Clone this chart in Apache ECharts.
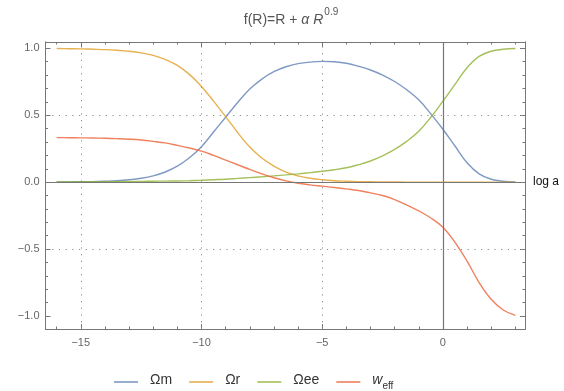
<!DOCTYPE html>
<html>
<head>
<meta charset="utf-8">
<script src="https://cdn.jsdelivr.net/npm/echarts@6/dist/echarts.min.js"></script>
<style>
  html, body { margin: 0; padding: 0; background: #fff; }
  #chart { width: 564px; height: 391px; }
</style>
</head>
<body>
<div id="chart"></div>
<script>
// Density parameters and effective equation of state versus log a
const logA = [-16, -15.5, -15, -14.5, -14, -13.5, -13, -12.5, -12, -11.5, -11, -10.5, -10,
  -9.5, -9, -8.5, -8, -7.5, -7, -6.5, -6, -5.5, -5, -4.5, -4, -3.5, -3, -2.5, -2, -1.5,
  -1, -0.5, 0, 0.5, 1, 1.5, 2, 2.5, 3];

const omegaM = [0.001, 0.002, 0.003, 0.004, 0.007, 0.011, 0.018, 0.029, 0.047, 0.076, 0.119, 0.182, 0.265,
  0.375, 0.485, 0.595, 0.695, 0.77, 0.825, 0.862, 0.885, 0.897, 0.902, 0.899, 0.888, 0.866, 0.838, 0.8, 0.752, 0.69,
  0.615, 0.51, 0.395, 0.27, 0.145, 0.062, 0.022, 0.007, 0.002];

const omegaR = [0.998, 0.997, 0.996, 0.993, 0.99, 0.985, 0.978, 0.966, 0.947, 0.917, 0.873, 0.805, 0.715,
  0.605, 0.49, 0.37, 0.262, 0.18, 0.12, 0.075, 0.047, 0.029, 0.018, 0.011, 0.007, 0.004, 0.0025, 0.0015, 0.001, 0.0005,
  0.0003, 0.0002, 0.0001, 0, 0, 0, 0, 0, 0];

const omegaEE = [0.001, 0.002, 0.002, 0.003, 0.003, 0.004, 0.005, 0.006, 0.007, 0.008, 0.009, 0.011, 0.014,
  0.018, 0.022, 0.028, 0.034, 0.04, 0.047, 0.054, 0.062, 0.071, 0.081, 0.093, 0.108, 0.13, 0.158, 0.196, 0.245, 0.305,
  0.38, 0.485, 0.605, 0.73, 0.855, 0.94, 0.978, 0.993, 0.998];

const wEff = [0.333, 0.332, 0.331, 0.33, 0.328, 0.325, 0.321, 0.315, 0.305, 0.293, 0.275, 0.255, 0.232,
  0.2, 0.165, 0.13, 0.095, 0.062, 0.033, 0.01, -0.008, -0.02, -0.03, -0.04, -0.05, -0.062, -0.08, -0.1, -0.13, -0.17,
  -0.215, -0.268, -0.337, -0.45, -0.59, -0.75, -0.875, -0.955, -0.995];

const xMajor = [-15, -10, -5, 0];
const xMinor = [-16, -14, -13, -12, -11, -9, -8, -7, -6, -4, -3, -2, -1, 1, 2, 3];
const yMajor = [-1, -0.5, 0, 0.5, 1];
const yMinor = [-0.9, -0.8, -0.7, -0.6, -0.4, -0.3, -0.2, -0.1, 0.1, 0.2, 0.3, 0.4, 0.6, 0.7, 0.8, 0.9];
const xGrid = [-15, -10, -5];
const yGrid = [-0.5, 0.5];

const X_MIN = -16.46, X_MAX = 3.4, Y_MIN = -1.097, Y_MAX = 1.047;
const FRAME = '#777';
const LABEL = '#666';
const FONT = 'Liberation Sans, Arial, sans-serif';

const pairs = vals => logA.map((x, i) => [x, vals[i]]);
const fmt = v => (v < 0 ? '\u2212' + Math.abs(v) : String(v));
const fmtY = v => (v < 0 ? '\u2212' + Math.abs(v).toFixed(1) : v.toFixed(1));

function xAxisDef(pos, ticks, len, labels) {
  return {
    type: 'value', position: pos, min: X_MIN, max: X_MAX,
    axisLine: { show: true, onZero: false, lineStyle: { color: FRAME, width: 1 } },
    axisTick: { show: true, inside: true, length: len, customValues: ticks, lineStyle: { color: FRAME } },
    axisLabel: labels ? { show: true, customValues: ticks, formatter: fmt, color: LABEL, fontSize: 11, fontFamily: FONT, margin: 8 } : { show: false },
    splitLine: { show: false }
  };
}
function yAxisDef(pos, ticks, len, labels) {
  return {
    type: 'value', position: pos, min: Y_MIN, max: Y_MAX,
    axisLine: { show: true, onZero: false, lineStyle: { color: FRAME, width: 1 } },
    axisTick: { show: true, inside: true, length: len, customValues: ticks, lineStyle: { color: FRAME } },
    axisLabel: labels ? { show: true, customValues: ticks, formatter: fmtY, color: LABEL, fontSize: 11, fontFamily: FONT, margin: 6 } : { show: false },
    splitLine: { show: false }
  };
}

const gridLineStyle = { color: '#8a8a8a', width: 1, type: [1.2, 5.5] };
const axisLineStyle = { color: '#777', width: 1.2, type: 'solid' };

const chart = echarts.init(document.getElementById('chart'), null, { renderer: 'canvas' });
chart.setOption({
  animation: false,
  backgroundColor: '#fff',
  title: {
    text: '{n|f(R)=R + }{i|\u03b1 R}{s|0.9}',
    left: 286, textAlign: 'center', top: 2,
    textStyle: {
      fontWeight: 'normal',
      rich: {
        n: { fontSize: 14, color: '#555', fontFamily: FONT, fontWeight: 'normal', verticalAlign: 'bottom', lineHeight: 20 },
        i: { fontSize: 14, color: '#555', fontFamily: FONT, fontWeight: 'normal', fontStyle: 'italic', verticalAlign: 'bottom', lineHeight: 20 },
        s: { fontSize: 10, color: '#555', fontFamily: FONT, fontWeight: 'normal', verticalAlign: 'top', lineHeight: 20, padding: [0, 0, 8, 1] }
      }
    }
  },
  grid: { left: 45.5, right: 39, top: 42, bottom: 62, containLabel: false },
  xAxis: [
    xAxisDef('bottom', xMajor, 5, true),
    xAxisDef('bottom', xMinor, 2.5, false),
    xAxisDef('top', xMajor, 5, false),
    xAxisDef('top', xMinor, 2.5, false)
  ],
  yAxis: [
    yAxisDef('left', yMajor, 5, true),
    yAxisDef('left', yMinor, 2.5, false),
    yAxisDef('right', yMajor, 5, false),
    yAxisDef('right', yMinor, 2.5, false)
  ],
  legend: {
    data: ['\u03a9m', '\u03a9r', '\u03a9ee', 'weff'],
    left: 109, top: 368,
    icon: 'rect', itemWidth: 24, itemHeight: 1.3, itemGap: 17,
    formatter: name => (name === 'weff' ? '{w|w}{e|eff}' : '{t|' + name + '}'),
    textStyle: {
      color: '#333', fontFamily: FONT, fontSize: 14, padding: [0, 0, 0, 7],
      rich: {
        t: { fontSize: 14, color: '#333', fontFamily: FONT, lineHeight: 18, verticalAlign: 'top' },
        w: { fontSize: 14, color: '#333', fontFamily: FONT, fontStyle: 'italic', lineHeight: 18, verticalAlign: 'top' },
        e: { fontSize: 10, color: '#333', fontFamily: FONT, lineHeight: 18, verticalAlign: 'bottom', padding: [4, 0, 0, 0] }
      }
    }
  },
  series: [
    {
      name: 'frame', type: 'line', data: [], silent: true, z: 1,
      markLine: {
        silent: true, symbol: 'none', animation: false,
        label: { show: false },
        data: [
          ...xGrid.map(v => ({ xAxis: v, lineStyle: gridLineStyle })),
          ...yGrid.map(v => ({ yAxis: v, lineStyle: gridLineStyle })),
          { xAxis: 0, lineStyle: axisLineStyle },
          { yAxis: 0, lineStyle: axisLineStyle,
            label: { show: true, position: 'end', formatter: 'log a', color: '#111', fontSize: 12, fontFamily: FONT, distance: 8 } }
        ]
      }
    },
    { name: '\u03a9m', type: 'line', data: pairs(omegaM), smooth: 0.4, showSymbol: false, z: 3,
      lineStyle: { color: '#5E81B5', width: 1.4, opacity: 0.8 }, itemStyle: { color: '#5E81B5' } },
    { name: '\u03a9r', type: 'line', data: pairs(omegaR), smooth: 0.4, showSymbol: false, z: 3,
      lineStyle: { color: '#E19C24', width: 1.4, opacity: 0.8 }, itemStyle: { color: '#E19C24' } },
    { name: '\u03a9ee', type: 'line', data: pairs(omegaEE), smooth: 0.4, showSymbol: false, z: 3,
      lineStyle: { color: '#8FB032', width: 1.4, opacity: 0.8 }, itemStyle: { color: '#8FB032' } },
    { name: 'weff', type: 'line', data: pairs(wEff), smooth: 0.4, showSymbol: false, z: 3,
      lineStyle: { color: '#EB6235', width: 1.4, opacity: 0.8 }, itemStyle: { color: '#EB6235' } }
  ]
});
</script>
</body>
</html>
